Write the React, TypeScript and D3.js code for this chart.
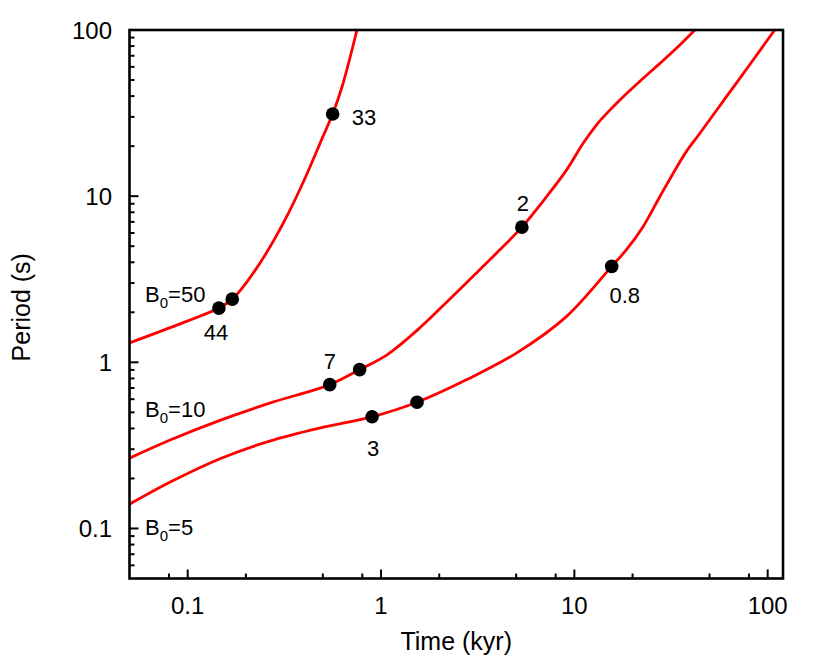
import React from "react";
import * as d3 from "d3";

// curve values: time in kyr, period in s
const b50Time = [0.05, 0.078, 0.145, 0.17, 0.1995, 0.251, 0.316, 0.398, 0.501, 0.562, 0.631, 0.751];
const b50Period = [1.31, 1.59, 2.12, 2.4, 2.98, 4.41, 7.07, 12.3, 22.9, 31.2, 46.2, 100];

const b10Time = [0.05, 0.0817, 0.148, 0.268, 0.543, 0.775, 1.074, 1.535, 2.19, 3.25, 4.13, 5.35, 7.19, 9.12, 11.1, 13.0, 14.7, 17.9, 22.7, 27.7, 33.7, 42.0];
const b10Period = [0.265, 0.342, 0.449, 0.57, 0.734, 0.904, 1.11, 1.556, 2.305, 3.62, 4.77, 6.51, 9.95, 14.4, 20.8, 26.8, 31.5, 39.7, 51.2, 63.0, 77.6, 100];

const b5Time = [0.05, 0.0817, 0.148, 0.268, 0.486, 0.899, 1.535, 2.78, 5.04, 9.12, 15.6, 18.6, 22.7, 27.7, 32.4, 38.0, 44.6, 61.2, 80.7, 108.7];
const b5Period = [0.14, 0.191, 0.264, 0.337, 0.403, 0.47, 0.575, 0.787, 1.14, 1.89, 3.78, 4.76, 6.57, 9.95, 13.7, 18.6, 23.9, 39.7, 61.8, 100];

// marked points and their labels
const dotTime = [0.145, 0.17, 0.562, 0.543, 0.775, 5.35, 0.899, 1.535, 15.6];
const dotPeriod = [2.12, 2.4, 31.2, 0.734, 0.904, 6.51, 0.47, 0.575, 3.78];
const dotLabel = ["44", "", "33", "7", "", "2", "3", "", "0.8"];

const curveNames = ["50", "10", "5"];
const curveNamePeriod = [2.31, 0.47, 0.0909];

const majorTicks = [0.1, 1, 10, 100];
const majorTickLabels = ["0.1", "1", "10", "100"];

const W = 830;
const H = 663;
const font = "'Liberation Sans', Arial, Helvetica, sans-serif";

// where each point label sits relative to its dot
const labelPlace: Record<string, { dx: number; dy: number; anchor: string }> = {
  "44": { dx: -3, dy: 32, anchor: "middle" },
  "33": { dx: 19, dy: 11, anchor: "start" },
  "7": { dx: 0, dy: -16, anchor: "middle" },
  "2": { dx: 1, dy: -16, anchor: "middle" },
  "3": { dx: 1, dy: 39, anchor: "middle" },
  "0.8": { dx: 13, dy: 37, anchor: "middle" },
};

export default function App() {
  const left = 129.5, right = 783, top = 30, bottom = 578.5;

  const x = d3.scaleLog().domain([0.05, 120]).range([left, right]);
  const y = d3.scaleLog().domain([0.05, 100]).range([bottom, top]);

  const line = d3
    .line<[number, number]>()
    .x(d => x(d[0]))
    .y(d => y(d[1]))
    .curve(d3.curveCatmullRom.alpha(0.5));

  const series = [
    d3.zip(b50Time, b50Period),
    d3.zip(b10Time, b10Period),
    d3.zip(b5Time, b5Period),
  ] as [number, number][][];

  // minor ticks: y gets 2..9, x only 2, 5, 8
  const yMinor: number[] = [];
  const xMinor: number[] = [];
  [0.01, 0.1, 1, 10].forEach(d => {
    for (let m = 2; m <= 9; m++) {
      const v = m * d;
      if (v > 0.05 && v < 100) yMinor.push(v);
    }
    [2, 5, 8].forEach(m => {
      const v = m * d;
      if (v > 0.05 && v < 120) xMinor.push(v);
    });
  });

  return (
    <svg width={W} height={H} style={{ position: "absolute", left: 0, top: 0, background: "#fff" }} fontFamily={font}>
      <defs>
        <clipPath id="plot">
          <rect x={left} y={top} width={right - left} height={bottom - top} />
        </clipPath>
      </defs>

      {/* ticks, pointing inward */}
      <g stroke="#000" strokeWidth={2}>
        {majorTicks.map(v => (
          <line key={"yM" + v} x1={left} x2={left + 9} y1={y(v)} y2={y(v)} />
        ))}
        {yMinor.map(v => (
          <line key={"ym" + v} x1={left} x2={left + 5} y1={y(v)} y2={y(v)} />
        ))}
        {majorTicks.map(v => (
          <line key={"xM" + v} x1={x(v)} x2={x(v)} y1={bottom} y2={bottom - 9} />
        ))}
        {xMinor.map(v => (
          <line key={"xm" + v} x1={x(v)} x2={x(v)} y1={bottom} y2={bottom - 5} />
        ))}
      </g>

      {/* tick labels */}
      <g fontSize={24} fill="#000">
        {majorTicks.map((v, i) => (
          <text key={"yl" + v} x={112} y={y(v) + 8.5} textAnchor="end">
            {majorTickLabels[i]}
          </text>
        ))}
        {majorTicks.map((v, i) => (
          <text key={"xl" + v} x={x(v)} y={614} textAnchor="middle">
            {majorTickLabels[i]}
          </text>
        ))}
      </g>

      {/* axis titles */}
      <text x={(left + right) / 2} y={650} textAnchor="middle" fontSize={25}>
        Time (kyr)
      </text>
      <text transform={`translate(30,${(top + bottom) / 2 + 3}) rotate(-90)`} textAnchor="middle" fontSize={25}>
        Period (s)
      </text>

      {/* curves */}
      <g clipPath="url(#plot)">
        {series.map((s, i) => (
          <path key={i} d={line(s) ?? ""} fill="none" stroke="#ff0000" strokeWidth={2.8} />
        ))}
      </g>

      {/* dots */}
      {dotTime.map((t, i) => (
        <circle key={"d" + i} cx={x(t)} cy={y(dotPeriod[i])} r={6.8} fill="#000" />
      ))}

      {/* dot labels */}
      <g fontSize={22}>
        {dotLabel.map((lab, i) => {
          if (!lab) return null;
          const p = labelPlace[lab];
          return (
            <text key={"l" + i} x={x(dotTime[i]) + p.dx} y={y(dotPeriod[i]) + p.dy} textAnchor={p.anchor}>
              {lab}
            </text>
          );
        })}
      </g>

      {/* curve names */}
      <g fontSize={22}>
        {curveNames.map((n, i) => (
          <text key={"n" + n} x={145} y={y(curveNamePeriod[i])}>
            B
            <tspan dy={6} fontSize={15}>0</tspan>
            <tspan dy={-6}>={n}</tspan>
          </text>
        ))}
      </g>

      {/* frame */}
      <rect x={left} y={top} width={right - left} height={bottom - top} fill="none" stroke="#000" strokeWidth={2.6} />
    </svg>
  );
}
